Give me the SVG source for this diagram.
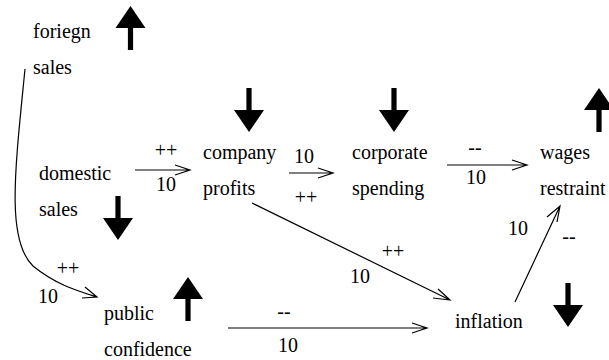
<svg xmlns="http://www.w3.org/2000/svg" width="609" height="360" viewBox="0 0 609 360">
<rect width="609" height="360" fill="#fff"/>
<g id="connectors" fill="none" stroke="#000" stroke-width="1.2">
<path d="M135,170 H190 M175,165 L190,170 L175,175"/>
<path d="M289,173 H333 M318,168 L333,173 L318,178"/>
<path d="M447,165 H527 M512,160 L527,165 L512,170"/>
<path d="M252,203 L450,300 M433,298 L450,300 L438,289"/>
<path d="M515,302 L560,206 M547,217 L560,206 L557,222"/>
<path d="M228,328 H427 M412,323 L427,328 L412,333"/>
<path d="M25,69 C15,170 6,240 33,266 C55,284 75,290 97,297 M85,287 L97,297 L82,298"/>
</g>
<g id="connector-labels">
<text font-family="Liberation Serif" font-size="20" text-anchor="middle" x="166" y="157">++</text>
<text font-family="Liberation Serif" font-size="20" text-anchor="middle" x="166" y="191">10</text>
<text font-family="Liberation Serif" font-size="20" text-anchor="middle" x="304" y="163">10</text>
<text font-family="Liberation Serif" font-size="20" text-anchor="middle" x="306" y="204">++</text>
<text font-family="Liberation Serif" font-size="20" text-anchor="middle" x="475" y="154">--</text>
<text font-family="Liberation Serif" font-size="20" text-anchor="middle" x="476" y="184">10</text>
<text font-family="Liberation Serif" font-size="20" text-anchor="middle" x="393" y="258">++</text>
<text font-family="Liberation Serif" font-size="20" text-anchor="middle" x="360" y="283">10</text>
<text font-family="Liberation Serif" font-size="20" text-anchor="middle" x="518" y="235">10</text>
<text font-family="Liberation Serif" font-size="20" text-anchor="middle" x="569" y="243">--</text>
<text font-family="Liberation Serif" font-size="20" text-anchor="middle" x="284" y="318">--</text>
<text font-family="Liberation Serif" font-size="20" text-anchor="middle" x="288" y="352">10</text>
<text font-family="Liberation Serif" font-size="20" text-anchor="middle" x="68" y="275">++</text>
<text font-family="Liberation Serif" font-size="20" text-anchor="middle" x="48" y="303">10</text>
</g>
<g id="foriegn-sales">
<text font-family="Liberation Serif" font-size="20" x="33" y="38">foriegn</text>
<text font-family="Liberation Serif" font-size="20" x="33" y="74">sales</text>
<path fill="#000" d="M127.9,50 H133.1 V28 H145.5 L130.5,6 L115.5,28 H127.9 Z"/>
</g>
<g id="domestic-sales">
<text font-family="Liberation Serif" font-size="20" x="39" y="180">domestic</text>
<text font-family="Liberation Serif" font-size="20" x="39" y="216">sales</text>
<path fill="#000" d="M115.4,196 H120.6 V218 H133 L118,240 L103,218 H115.4 Z"/>
</g>
<g id="company-profits">
<text font-family="Liberation Serif" font-size="20" x="203" y="159">company</text>
<text font-family="Liberation Serif" font-size="20" x="203" y="195">profits</text>
<path fill="#000" d="M246.4,88 H251.6 V110 H264 L249,132 L234,110 H246.4 Z"/>
</g>
<g id="corporate-spending">
<text font-family="Liberation Serif" font-size="20" x="352" y="159">corporate</text>
<text font-family="Liberation Serif" font-size="20" x="352" y="195">spending</text>
<path fill="#000" d="M391.4,88 H396.6 V110 H409 L394,132 L379,110 H391.4 Z"/>
</g>
<g id="wages-restraint">
<text font-family="Liberation Serif" font-size="20" x="540" y="159">wages</text>
<text font-family="Liberation Serif" font-size="20" x="540" y="195">restraint</text>
<path fill="#000" d="M596.4,132 H601.6 V110 H614 L599,88 L584,110 H596.4 Z"/>
</g>
<g id="public-confidence">
<text font-family="Liberation Serif" font-size="20" x="104" y="320">public</text>
<text font-family="Liberation Serif" font-size="20" x="104" y="356">confidence</text>
<path fill="#000" d="M185.4,321 H190.6 V299 H203 L188,277 L173,299 H185.4 Z"/>
</g>
<g id="inflation">
<text font-family="Liberation Serif" font-size="20" x="455" y="328">inflation</text>
<path fill="#000" d="M565.4,283 H570.6 V305 H583 L568,327 L553,305 H565.4 Z"/>
</g>
</svg>
